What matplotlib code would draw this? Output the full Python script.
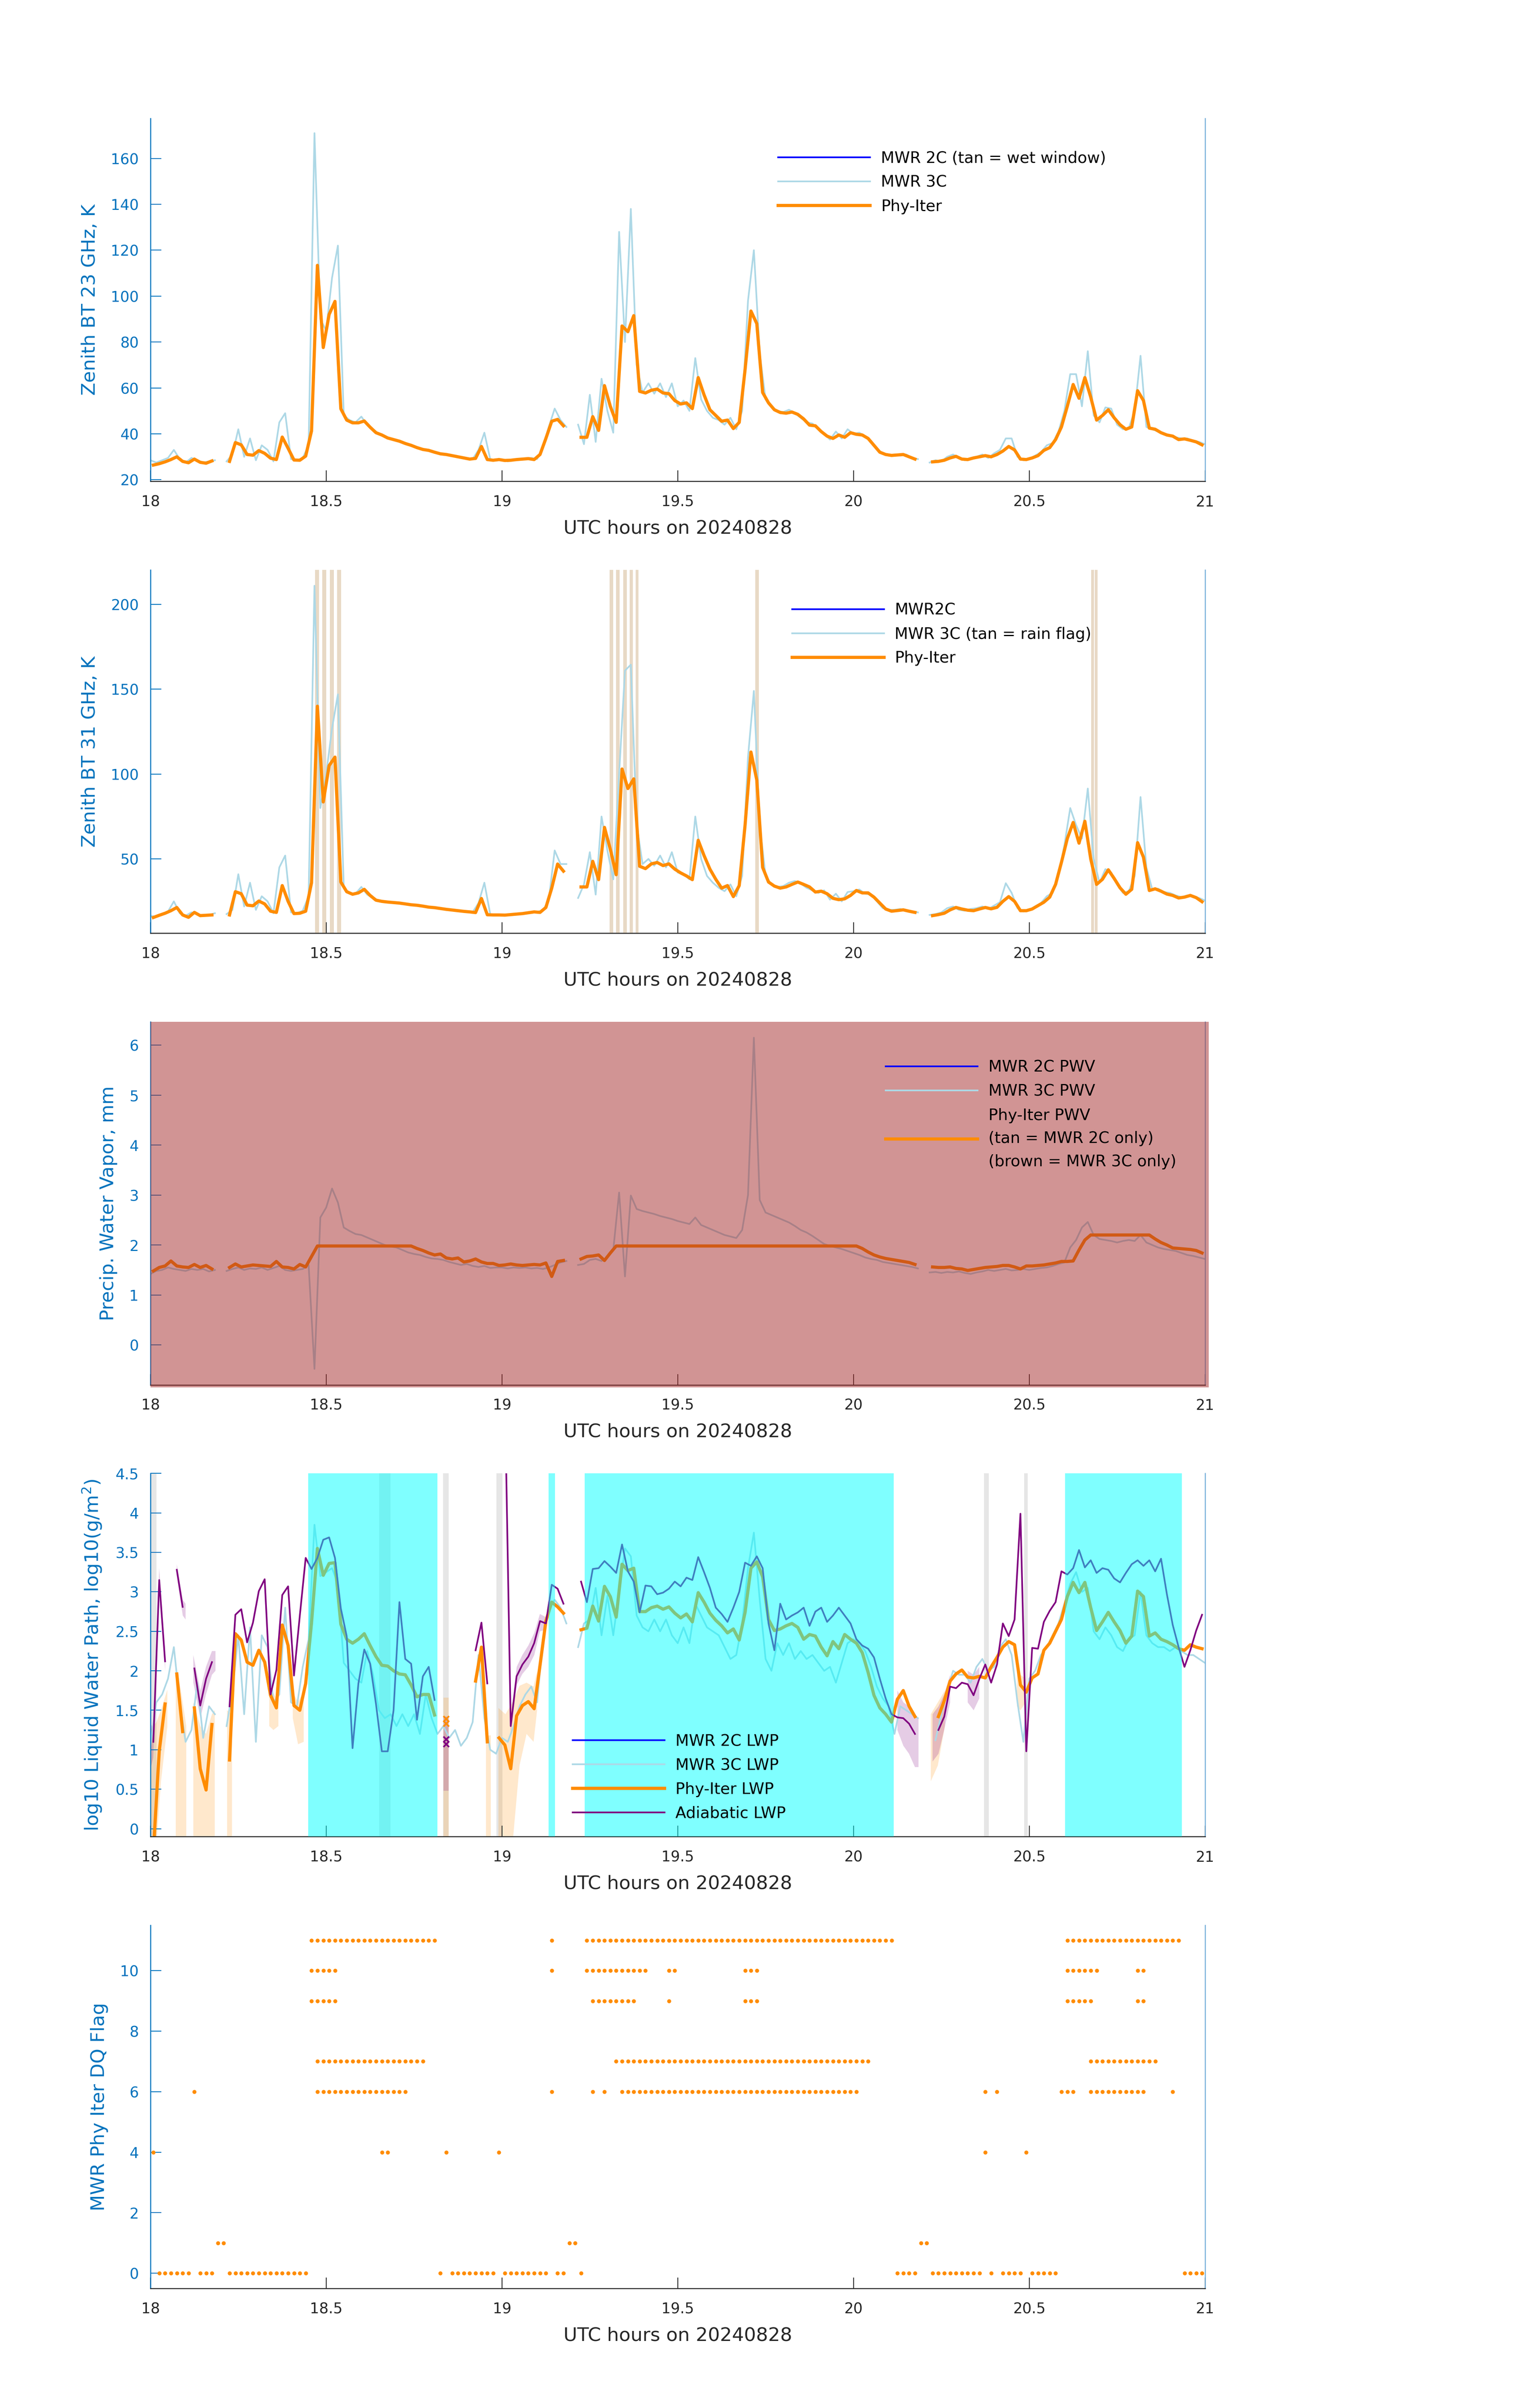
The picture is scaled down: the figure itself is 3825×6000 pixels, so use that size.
import numpy as np
import matplotlib
matplotlib.use('Agg')
import matplotlib.pyplot as plt
from matplotlib.ticker import FormatStrFormatter
from matplotlib.patches import Rectangle

nan = np.nan

# Phy-Iter retrievals are 1-minute, MWR 3C values on the minute grid
t_phy = 18 + (np.arange(180) + 0.5) / 60
t_mwr = 18 + np.arange(181) / 60

# zenith BT 23 GHz (K)
bt23_phy = [26.4, 27.0, 27.8, 28.8, 30.0, 28.0, 27.4, 29.0, 27.6, 27.2,
            28.2, nan, nan, 28.0, 36.2, 35.2, 31.0, 30.7, 32.7, 31.5,
            29.4, 28.8, 38.6, 33.7, 28.6, 28.5, 30.3, 41.3, 113.4, 77.6,
            92.0, 97.7, 50.9, 46.0, 44.8, 44.8, 45.6, 42.9, 40.5, 39.5,
            38.2, 37.5, 36.8, 35.8, 35.0, 34.0, 33.2, 32.8, 32.0, 31.3,
            31.0, 30.5, 30.0, 29.5, 29.0, 29.3, 34.5, 28.8, 28.5, 28.8,
            28.4, 28.5, 28.8, 29.0, 29.2, 28.8, 31.0, 38.0, 45.5, 46.3,
            43.5, nan, nan, 38.5, 38.5, 47.5, 41.5, 61.0, 52.0, 45.0,
            87.0, 84.5, 91.5, 58.5, 57.8, 59.0, 59.5, 57.8, 57.5, 54.5,
            53.0, 53.5, 51.0, 64.5, 57.0, 50.5, 48.0, 45.5, 46.0, 42.3,
            45.0, 68.0, 93.5, 88.0, 58.0, 53.5, 50.5, 49.3, 49.0, 49.5,
            48.5, 46.5, 43.8, 43.5, 41.0, 39.0, 38.0, 39.5, 38.5, 40.5,
            39.8, 39.5, 38.0, 35.0, 32.0, 31.0, 30.6, 30.8, 31.0, 30.0,
            29.0, nan, nan, 27.8, 28.0, 28.5, 29.5, 30.2, 29.0, 28.8,
            29.5, 30.0, 30.5, 30.0, 31.0, 32.5, 34.5, 33.0, 29.0, 28.8,
            29.5, 30.5, 32.8, 34.0, 37.5, 43.0, 52.0, 61.5, 55.5, 64.5,
            56.0, 46.0, 48.0, 50.5, 47.0, 44.0, 42.0, 43.0, 58.8, 54.5,
            42.5, 42.0, 40.5, 39.5, 39.0, 37.5, 37.8, 37.2, 36.5, 35.2]
bt23_mwr3c = [28.5, 27.5, 28.5, 29.5, 33.0, 29.0, 27.5, 29.5, 28.5, 27.5,
              28.0, 28.5, nan, 28.0, 31.0, 42.0, 30.0, 38.0, 28.5, 35.0,
              33.0, 28.0, 45.0, 49.0, 29.0, 28.5, 29.5, 35.0, 171.0, 90.0,
              85.0, 108.0, 122.0, 48.0, 46.0, 45.0, 47.5, 44.0, 42.0, 40.0,
              38.8, 37.8, 37.2, 36.3, 35.5, 34.5, 33.8, 33.0, 32.5, 31.8,
              31.3, 30.8, 30.3, 29.8, 29.3, 29.0, 33.0, 40.5, 29.0, 28.3,
              28.8, 28.0, 28.8, 29.0, 29.3, 29.5, 29.0, 34.0, 43.0, 51.0,
              46.0, 43.0, nan, 44.0, 35.5, 57.0, 36.5, 64.0, 50.0, 40.5,
              128.0, 80.0, 138.0, 70.0, 58.0, 62.0, 57.5, 62.0, 56.0, 62.0,
              52.0, 54.5, 50.0, 73.0, 55.0, 50.0, 47.0, 46.0, 44.0, 47.0,
              42.0, 50.0, 98.0, 120.0, 75.0, 55.0, 52.0, 50.0, 49.5, 50.5,
              49.0, 47.0, 45.0, 44.5, 42.0, 40.0, 37.5, 41.0, 38.0, 42.0,
              40.0, 40.5, 39.0, 37.0, 33.5, 31.5, 30.5, 31.0, 30.5, 31.0,
              29.5, 29.0, nan, 27.5, 28.5, 28.0, 30.0, 31.0, 29.5, 28.5,
              29.5, 30.0, 31.0, 29.5, 31.5, 33.0, 38.0, 38.0, 30.0, 28.5,
              29.0, 30.5, 32.0, 35.0, 36.0, 41.0, 50.0, 66.0, 66.0, 52.0,
              76.0, 48.0, 45.0, 51.5, 51.0, 44.0, 42.0, 42.5, 50.0, 74.0,
              43.0, 42.0, 41.0, 40.0, 39.0, 38.5, 38.0, 38.0, 37.0, 36.5, 35.5]

# zenith BT 31 GHz (K)
bt31_phy = [15.5, 16.8, 18.0, 19.5, 21.4, 17.0, 15.6, 18.5, 16.6, 16.8,
            17.0, nan, nan, 17.0, 30.7, 29.5, 22.8, 22.4, 25.2, 23.5,
            19.2, 18.5, 34.3, 25.0, 17.8, 18.0, 19.2, 36.0, 140.0, 83.6,
            105.0, 110.0, 36.4, 30.7, 29.2, 30.0, 32.1, 28.5, 25.7, 25.0,
            24.6, 24.3, 24.0, 23.5, 23.0, 22.7, 22.2, 21.6, 21.3, 20.8,
            20.3, 19.9, 19.5, 19.1, 18.8, 18.4, 26.7, 17.1, 17.0, 17.0,
            16.9, 17.2, 17.5, 17.8, 18.3, 18.8, 18.5, 21.4, 32.8, 47.0,
            42.8, nan, nan, 33.5, 33.5, 48.6, 37.8, 68.6, 55.7, 40.7,
            103.0, 91.5, 97.2, 45.7, 44.3, 47.1, 47.9, 46.1, 47.1, 44.0,
            41.8, 40.0, 37.8, 61.0, 52.0, 44.0, 38.0, 32.8, 34.3, 27.8,
            34.3, 70.0, 113.0, 96.5, 45.0, 36.4, 34.0, 32.8, 33.5, 35.0,
            36.4, 35.0, 33.5, 30.5, 31.0, 29.5, 26.8, 26.0, 26.5, 28.5,
            31.4, 30.0, 30.0, 27.5, 24.0, 20.5, 19.2, 19.6, 20.0, 19.2,
            18.5, nan, nan, 16.6, 17.2, 18.0, 20.0, 21.4, 20.5, 19.8,
            19.5, 20.5, 21.4, 20.6, 21.5, 25.0, 27.8, 25.0, 19.5, 19.5,
            20.5, 22.5, 24.5, 27.5, 35.0, 48.0, 62.0, 71.5, 59.3, 72.2,
            50.0, 35.0, 38.0, 43.6, 38.5, 33.0, 29.2, 32.1, 59.6, 51.0,
            31.4, 32.4, 31.0, 29.3, 28.5, 27.0, 27.5, 28.5, 27.2, 24.8]
bt31_mwr3c = [16.5, 16.0, 17.5, 19.0, 25.0, 18.0, 16.5, 18.5, 17.5, 16.5,
              17.0, 18.0, nan, 17.5, 20.0, 41.0, 22.0, 36.0, 20.0, 28.0,
              25.0, 18.0, 45.0, 52.0, 18.5, 18.0, 19.5, 28.0, 211.0, 80.0,
              100.0, 127.0, 147.0, 33.0, 30.0, 29.5, 33.5, 29.0, 27.0, 25.5,
              25.0, 24.5, 24.2, 23.8, 23.3, 22.9, 22.5, 22.0, 21.5, 21.0,
              20.6, 20.1, 19.7, 19.3, 19.0, 18.6, 24.0, 36.0, 17.5, 17.0,
              17.2, 17.0, 17.5, 17.6, 18.0, 18.6, 19.0, 19.5, 26.0, 55.0,
              47.0, 47.0, nan, 27.0, 35.0, 54.0, 29.0, 75.0, 55.0, 38.0,
              100.0, 161.0, 164.5, 70.0, 47.0, 50.0, 46.0, 52.0, 45.0, 54.0,
              42.0, 41.0, 38.0, 75.0, 50.0, 40.0, 36.0, 33.0, 31.0, 35.0,
              28.0, 40.0, 110.0, 149.0, 70.0, 40.0, 35.0, 33.5, 34.0, 36.0,
              37.0, 35.5, 33.0, 31.5, 30.0, 31.5, 26.0, 29.5, 25.0, 30.5,
              31.0, 32.0, 29.5, 29.0, 25.0, 21.0, 20.0, 20.0, 20.5, 19.5,
              19.0, 18.5, nan, 17.0, 17.5, 18.5, 21.0, 22.0, 20.0, 19.5,
              20.5, 21.0, 22.0, 20.5, 22.5, 24.5, 35.7, 30.0, 21.0, 19.0,
              20.0, 22.0, 24.0, 28.0, 30.0, 40.0, 58.0, 80.0, 70.0, 62.0,
              91.5, 50.0, 36.0, 44.0, 42.0, 35.0, 30.0, 31.0, 40.0, 86.5,
              45.0, 32.0, 32.5, 30.5, 30.0, 28.5, 27.5, 28.5, 28.0, 27.0, 25.5]
rain_spans = [(18.468, 18.480), (18.489, 18.500), (18.510, 18.522), (18.531, 18.542),
              (19.306, 19.316), (19.325, 19.335), (19.345, 19.355), (19.363, 19.373),
              (19.380, 19.388), (19.721, 19.731), (20.676, 20.684), (20.686, 20.694)]

# precipitable water vapor (mm)
pwv_phy = [1.48, 1.55, 1.58, 1.68, 1.58, 1.56, 1.55, 1.61, 1.55, 1.59,
           1.52, nan, nan, 1.55, 1.62, 1.56, 1.58, 1.60, 1.59, 1.58,
           1.57, 1.67, 1.56, 1.55, 1.52, 1.61, 1.56, 1.77, 1.98, 1.98,
           1.98, 1.98, 1.98, 1.98, 1.98, 1.98, 1.98, 1.98, 1.98, 1.98,
           1.98, 1.98, 1.98, 1.98, 1.98, 1.93, 1.89, 1.84, 1.80, 1.82,
           1.74, 1.72, 1.74, 1.66, 1.68, 1.72, 1.66, 1.63, 1.63, 1.59,
           1.60, 1.62, 1.60, 1.59, 1.60, 1.61, 1.60, 1.64, 1.37, 1.67,
           1.69, nan, nan, 1.72, 1.77, 1.78, 1.80, 1.69, 1.84, 1.98,
           1.98, 1.98, 1.98, 1.98, 1.98, 1.98, 1.98, 1.98, 1.98, 1.98,
           1.98, 1.98, 1.98, 1.98, 1.98, 1.98, 1.98, 1.98, 1.98, 1.98,
           1.98, 1.98, 1.98, 1.98, 1.98, 1.98, 1.98, 1.98, 1.98, 1.98,
           1.98, 1.98, 1.98, 1.98, 1.98, 1.98, 1.98, 1.98, 1.98, 1.98,
           1.98, 1.93, 1.86, 1.80, 1.76, 1.73, 1.71, 1.69, 1.67, 1.65,
           1.61, nan, nan, 1.56, 1.55, 1.55, 1.56, 1.53, 1.52, 1.49,
           1.51, 1.53, 1.55, 1.56, 1.57, 1.59, 1.59, 1.56, 1.52, 1.58,
           1.58, 1.59, 1.60, 1.62, 1.64, 1.67, 1.67, 1.68, 1.90, 2.10,
           2.20, 2.20, 2.20, 2.20, 2.20, 2.20, 2.20, 2.20, 2.20, 2.20,
           2.20, 2.12, 2.05, 2.00, 1.94, 1.93, 1.92, 1.91, 1.89, 1.84]
pwv_mwr3c = [1.42, 1.48, 1.50, 1.55, 1.52, 1.50, 1.48, 1.52, 1.50, 1.52,
             1.47, 1.50, nan, 1.48, 1.52, 1.55, 1.50, 1.53, 1.52, 1.55,
             1.50, 1.54, 1.58, 1.50, 1.48, 1.50, 1.52, 1.60, -0.48, 2.55,
             2.75, 3.13, 2.85, 2.35, 2.28, 2.22, 2.20, 2.15, 2.10, 2.05,
             2.00, 1.97, 1.95, 1.90, 1.85, 1.82, 1.80, 1.76, 1.73, 1.72,
             1.70, 1.66, 1.63, 1.60, 1.62, 1.58, 1.56, 1.58, 1.54, 1.55,
             1.55, 1.53, 1.55, 1.54, 1.55, 1.53, 1.54, 1.52, 1.55, 1.60,
             1.65, 1.68, nan, 1.60, 1.62, 1.70, 1.72, 1.68, 1.75, 1.90,
             3.05, 1.37, 2.99, 2.72, 2.68, 2.65, 2.62, 2.58, 2.55, 2.52,
             2.48, 2.45, 2.42, 2.55, 2.40, 2.35, 2.30, 2.25, 2.20, 2.17,
             2.14, 2.30, 3.00, 6.15, 2.90, 2.65, 2.60, 2.55, 2.50, 2.45,
             2.38, 2.30, 2.25, 2.18, 2.10, 2.02, 1.98, 1.95, 1.92, 1.88,
             1.84, 1.80, 1.75, 1.72, 1.70, 1.66, 1.64, 1.62, 1.60, 1.58,
             1.56, 1.53, nan, 1.45, 1.46, 1.44, 1.46, 1.45, 1.47, 1.44,
             1.42, 1.45, 1.47, 1.50, 1.48, 1.50, 1.52, 1.49, 1.50, 1.52,
             1.50, 1.52, 1.54, 1.55, 1.58, 1.62, 1.65, 1.95, 2.10, 2.35,
             2.46, 2.20, 2.12, 2.10, 2.08, 2.05, 2.08, 2.10, 2.08, 2.20,
             2.05, 2.00, 1.95, 1.92, 1.90, 1.88, 1.84, 1.80, 1.78, 1.75, 1.72]

# log10 liquid water path
lwp_phy = [-0.3, 0.98, 1.58, nan, 1.96, 1.23, nan, 1.53, 0.76, 0.49,
           1.32, nan, nan, 0.87, 2.47, 2.39, 2.11, 2.07, 2.26, 2.11,
           1.69, 1.53, 2.58, 2.32, 1.56, 1.50, 1.84, 2.61, 3.55, 3.21,
           3.36, 3.37, 2.59, 2.40, 2.35, 2.40, 2.47, 2.32, 2.18, 2.07,
           2.06, 2.00, 1.96, 1.95, 1.82, 1.67, 1.70, 1.70, 1.44, nan,
           nan, nan, nan, nan, nan, 1.87, 2.30, 1.10, nan, 1.15,
           1.06, 0.76, 1.43, 1.56, 1.61, 1.52, 2.07, 2.63, 2.87, 2.81,
           2.73, nan, nan, 2.52, 2.54, 2.82, 2.63, 3.07, 2.94, 2.68,
           3.35, 3.27, 3.30, 2.75, 2.75, 2.80, 2.82, 2.78, 2.81, 2.73,
           2.67, 2.72, 2.62, 2.99, 2.87, 2.73, 2.64, 2.57, 2.48, 2.53,
           2.39, 2.74, 3.30, 3.38, 3.19, 2.65, 2.51, 2.53, 2.57, 2.60,
           2.55, 2.40, 2.46, 2.44, 2.30, 2.19, 2.37, 2.28, 2.46, 2.40,
           2.35, 2.23, 1.98, 1.69, 1.53, 1.45, 1.35, 1.64, 1.75, 1.55,
           1.42, nan, nan, nan, 1.42, 1.62, 1.87, 1.96, 2.01, 1.92,
           1.91, 1.93, 1.91, 2.05, 2.17, 2.30, 2.37, 2.33, 1.82, 1.73,
           1.91, 1.96, 2.26, 2.35, 2.50, 2.65, 2.94, 3.12, 2.99, 3.12,
           2.80, 2.51, 2.62, 2.74, 2.62, 2.51, 2.35, 2.44, 3.01, 2.94,
           2.44, 2.48, 2.40, 2.37, 2.33, 2.28, 2.26, 2.33, 2.30, 2.28]
lwp_adiabatic = [1.10, 3.15, 2.12, nan, 3.28, 2.81, nan, 2.03, 1.56, 1.90,
                 2.11, nan, nan, 1.55, 2.71, 2.78, 2.36, 2.61, 3.01, 3.16,
                 1.70, 2.01, 2.96, 3.07, 1.94, 2.70, 3.43, 3.29, 3.43, 3.66,
                 3.69, 3.43, 2.79, 2.44, 1.02, 1.84, 2.27, 2.09, 1.58, 0.98,
                 0.98, 1.50, 2.87, 2.15, 2.09, 1.38, 1.93, 2.05, 1.63, nan,
                 nan, nan, nan, nan, nan, 2.26, 2.61, 1.84, nan, nan,
                 5.50, 1.30, 1.93, 2.08, 2.18, 2.35, 2.63, 2.60, 3.09, 3.04,
                 2.85, nan, nan, 3.13, 2.87, 3.29, 3.30, 3.39, 3.32, 3.24,
                 3.60, 3.26, 3.13, 2.74, 3.08, 3.07, 2.97, 2.99, 3.04, 3.13,
                 3.07, 3.18, 3.15, 3.44, 3.25, 3.05, 2.80, 2.72, 2.62, 2.80,
                 3.00, 3.37, 3.33, 3.45, 3.30, 2.60, 2.26, 2.85, 2.65, 2.70,
                 2.74, 2.80, 2.57, 2.75, 2.80, 2.62, 2.70, 2.80, 2.70, 2.60,
                 2.40, 2.32, 2.28, 2.17, 1.90, 1.65, 1.45, 1.41, 1.40, 1.33,
                 1.20, nan, nan, nan, 1.25, 1.42, 1.80, 1.78, 1.85, 1.83,
                 1.69, 1.90, 2.08, 1.85, 2.08, 2.60, 2.44, 2.65, 3.99, 0.98,
                 2.29, 2.28, 2.62, 2.76, 2.87, 3.26, 3.22, 3.30, 3.53, 3.31,
                 3.40, 3.24, 3.30, 3.28, 3.17, 3.12, 3.24, 3.35, 3.40, 3.33,
                 3.40, 3.26, 3.42, 2.97, 2.58, 2.30, 2.05, 2.26, 2.51, 2.71]
lwp_mwr3c = [1.05, 1.60, 1.70, 1.90, 2.30, 1.60, 1.10, 1.25, 1.85, 1.15,
             1.55, 1.45, nan, 1.30, 1.75, 2.45, 1.45, 2.55, 1.10, 2.45,
             2.30, 1.60, 1.70, 2.80, 1.60, 1.55, 2.05, 2.40, 3.85, 3.20,
             3.25, 3.30, 3.10, 2.10, 2.00, 1.90, 1.85, 2.25, 1.95, 1.50,
             1.40, 1.45, 1.30, 1.45, 1.30, 1.45, 1.20, 1.70, 1.40, 1.20,
             1.30, 1.15, 1.25, 1.05, 1.15, 1.35, 2.20, 1.40, 1.00, 0.95,
             1.15, 1.10, 1.30, 1.55, 1.70, 1.80, 1.60, 2.40, 2.80, 2.90,
             2.80, 2.60, nan, 2.30, 2.60, 2.65, 3.05, 2.45, 2.95, 2.45,
             3.00, 3.55, 3.45, 2.70, 2.55, 2.50, 2.65, 2.50, 2.65, 2.45,
             2.35, 2.55, 2.35, 2.85, 2.70, 2.55, 2.50, 2.45, 2.30, 2.15,
             2.20, 2.60, 3.30, 3.75, 2.90, 2.15, 2.00, 2.35, 2.20, 2.35,
             2.15, 2.25, 2.15, 2.20, 2.10, 2.00, 2.05, 1.85, 2.10, 2.35,
             2.40, 2.35, 2.25, 2.05, 1.80, 1.65, 1.55, 1.20, 1.55, 1.50,
             1.45, 1.40, nan, nan, 1.12, 1.45, 1.75, 2.00, 1.95, 1.95,
             1.85, 2.05, 2.15, 2.00, 2.05, 2.30, 2.40, 2.20, 1.60, 1.10,
             1.90, 2.00, 2.20, 2.30, 2.45, 2.60, 2.85, 3.10, 3.25, 3.00,
             3.05, 2.50, 2.40, 2.55, 2.45, 2.30, 2.25, 2.40, 2.45, 3.00,
             2.45, 2.35, 2.30, 2.30, 2.25, 2.30, 2.25, 2.20, 2.20, 2.15, 2.10]
# uncertainty envelopes (only where they are wider than the line)
phy_unc_t = [18.0, 18.017, 18.03, 18.048, nan, 18.072, 18.085, 18.102, nan,
             18.122, 18.142, 18.158, 18.175, 18.183, nan, 18.218, 18.232, nan,
             18.338, 18.35, 18.364, nan, 18.405, 18.42, 18.436, nan,
             18.834, 18.848, nan, 18.955, 18.968, nan,
             18.99, 19.01, 19.03, 19.05, 19.07, 19.09, 19.10, nan,
             20.22, 20.24, 20.26, nan, 20.465, 20.475, 20.49]
phy_unc_lo = [-0.2, -0.2, 0.6, 1.29, nan, -0.2, -0.2, -0.2, nan,
              -0.2, -0.2, -0.2, -0.2, -0.2, nan, -0.2, -0.2, nan,
              1.30, 1.25, 1.30, nan, 1.40, 1.07, 1.10, nan,
              -0.2, -0.2, nan, -0.2, -0.2, nan,
              -0.2, -0.2, -0.2, 0.80, 1.20, 1.10, 1.50, nan,
              0.60, 0.80, 1.30, nan, 1.55, 1.50, 1.60]
phy_unc_hi = [1.25, 1.35, 1.50, 1.76, nan, 2.04, 1.80, 1.30, nan,
              1.60, 1.30, 1.20, 1.45, 1.50, nan, 1.50, 1.45, nan,
              1.75, 1.72, 1.60, nan, 1.73, 1.60, 1.75, nan,
              1.66, 1.66, nan, 1.18, 1.18, nan,
              1.53, 1.45, 1.60, 1.81, 1.85, 1.80, 2.00, nan,
              1.45, 1.60, 1.75, nan, 2.00, 1.95, 1.90]
adi_unc_t = [18.0, 18.008, 18.025, 18.042, nan, 18.075, 18.092, 18.10, nan,
             18.122, 18.142, 18.158, 18.175, 18.185, nan, 18.834, 18.848, nan,
             19.025, 19.042, 19.058, 19.075, 19.092, 19.108, 19.125, nan,
             20.125, 20.142, 20.158, 20.175, 20.185, nan,
             20.225, 20.242, 20.258, 20.275, nan, 20.325, 20.342, 20.358]
adi_unc_lo = [0.75, 0.90, 3.00, 2.00, nan, 3.20, 2.70, 2.65, nan,
              1.85, 1.40, 1.70, 1.95, 2.00, nan, 0.48, 0.48, nan,
              1.20, 1.82, 1.96, 2.05, 2.20, 2.50, 2.52, nan,
              1.25, 1.05, 0.95, 0.78, 0.78, nan,
              0.85, 0.95, 1.25, 1.60, nan, 1.60, 1.50, 1.65]
adi_unc_hi = [1.35, 1.25, 3.30, 2.20, nan, 3.35, 2.90, 2.85, nan,
              2.20, 1.75, 2.05, 2.25, 2.25, nan, 1.42, 1.42, nan,
              1.40, 2.05, 2.20, 2.32, 2.48, 2.72, 2.68, nan,
              1.75, 1.60, 1.55, 1.45, 1.40, nan,
              1.45, 1.55, 1.70, 1.95, nan, 2.00, 1.95, 2.05]
# lone retrievals at 18.84 h
iso_t = [18.841, 18.841]
phy_iso = [1.39, 1.33]
adi_iso = [1.13, 1.07]
cyan_spans = [(18.449, 18.817), (19.133, 19.151), (19.235, 20.115), (20.602, 20.934)]
grey_spans = [(18.0, 18.017), (18.651, 18.683), (18.833, 18.848),
              (18.984, 19.001), (20.371, 20.385), (20.485, 20.496)]

# DQ flags: runs of Phy-Iter minute indices (inclusive) that carry each flag
dq11 = [(27, 48), (68, 68), (74, 126), (156, 175)]
dq10 = [(27, 31), (68, 68), (74, 84), (88, 89), (101, 103), (156, 161), (168, 169)]
dq9 = [(27, 31), (75, 82), (88, 88), (101, 103), (156, 160), (168, 169)]
dq7 = [(28, 46), (79, 122), (160, 171)]
dq6 = [(7, 7), (28, 43), (68, 68), (75, 75), (77, 77), (80, 120), (142, 142),
       (144, 144), (155, 157), (160, 169), (174, 174)]
dq4 = [(0, 0), (39, 40), (50, 50), (59, 59), (142, 142), (149, 149)]
dq1 = [(11, 12), (71, 72), (131, 132)]
dq0 = [(1, 6), (8, 10), (13, 26), (49, 49), (51, 58), (60, 67), (69, 70), (73, 73),
       (127, 130), (133, 141), (143, 143), (145, 148), (150, 154), (176, 179)]

BLUE = (0, 0.447, 0.741)
DARK = (0.15, 0.15, 0.15)
ORANGE = 'darkorange'
LBLUE = 'lightblue'

plt.rcParams['font.family'] = ['DejaVu Sans']

fig = plt.figure(figsize=(12.75, 20), dpi=300)
axes = [fig.add_axes([0.098, 0.0497 + i * 0.1876, 0.687, 0.1508]) for i in range(4, -1, -1)]


def style(ax, ylim, yticks, ylabel):
    ax.set_xlim(18, 21)
    ax.set_ylim(*ylim)
    ax.set_yticks(yticks)
    ax.set_xticks([18, 18.5, 19, 19.5, 20, 20.5, 21])
    ax.xaxis.set_major_formatter(FormatStrFormatter('%g'))
    ax.yaxis.set_major_formatter(FormatStrFormatter('%g'))
    ax.spines['top'].set_visible(False)
    ax.spines['left'].set_color(BLUE)
    ax.spines['right'].set_color((0.45, 0.68, 0.85))
    ax.spines['bottom'].set_color(DARK)
    for s in ax.spines.values():
        s.set_linewidth(0.6)
    ax.tick_params(axis='x', direction='in', length=6.5, width=0.5, colors=DARK,
                   labelsize=8.8, pad=8)
    ax.tick_params(axis='y', direction='in', length=6.5, width=0.5, colors=BLUE,
                   labelsize=8.8, pad=7, right=False)
    ax.set_xlabel('UTC hours on 20240828', fontsize=11.3, color=DARK, labelpad=6)
    ax.set_ylabel(ylabel, fontsize=11.3, color=BLUE, labelpad=7)


def legend(ax, x, y):
    return ax.legend(loc='upper left', bbox_to_anchor=(x, y), frameon=False, fontsize=9.4,
                     handlelength=5.85, handletextpad=0.68, labelspacing=0.56,
                     borderpad=0, borderaxespad=0)


# 1) BT 23 GHz
ax = axes[0]
ax.plot([], [], color='blue', lw=1.0, label='MWR 2C (tan = wet window)')
ax.plot(t_mwr, bt23_mwr3c, color=LBLUE, lw=1.0, label='MWR 3C')
ax.plot(t_phy, bt23_phy, color=ORANGE, lw=1.9, label='Phy-Iter')
style(ax, (19.3, 177.5), range(20, 161, 20), 'Zenith BT 23 GHz, K')
legend(ax, 0.5953, 0.910)

# 2) BT 31 GHz
ax = axes[1]
for a, b in rain_spans:
    ax.axvspan(a, b, color='tan', alpha=0.5, lw=0, zorder=1)
ax.plot([], [], color='blue', lw=1.0, label='MWR2C')
ax.plot(t_mwr, bt31_mwr3c, color=LBLUE, lw=1.0, label='MWR 3C (tan = rain flag)')
ax.plot(t_phy, bt31_phy, color=ORANGE, lw=1.9, label='Phy-Iter')
style(ax, (6.3, 220.3), [50, 100, 150, 200], 'Zenith BT 31 GHz, K')
legend(ax, 0.6084, 0.910)

# 3) PWV
ax = axes[2]
ax.plot([], [], color='blue', lw=1.0, label='MWR 2C PWV')
ax.plot(t_mwr, pwv_mwr3c, color=LBLUE, lw=1.0, label='MWR 3C PWV')
ax.plot(t_phy, pwv_phy, color=ORANGE, lw=1.9,
        label='Phy-Iter PWV\n(tan = MWR 2C only)\n(brown = MWR 3C only)')
ax.add_patch(Rectangle((18, -0.85), 3.011, 7.32, color='brown', alpha=0.5, lw=0,
                       zorder=3, clip_on=False))
style(ax, (-0.8, 6.47), range(0, 7), 'Precip. Water Vapor, mm')
leg = legend(ax, 0.6972, 0.895)
for txt in leg.get_texts():
    txt.set_linespacing(1.65)

# 4) LWP
ax = axes[3]
for a, b in grey_spans:
    ax.axvspan(a, b, color='0.9', lw=0, zorder=0.5)
ax.fill_between(phy_unc_t, phy_unc_lo, phy_unc_hi, color=ORANGE, alpha=0.2, lw=0, zorder=1)
ax.fill_between(adi_unc_t, adi_unc_lo, adi_unc_hi, color='purple', alpha=0.2, lw=0, zorder=1)
ax.plot([], [], color='blue', lw=1.0, label='MWR 2C LWP')
ax.plot(t_mwr, lwp_mwr3c, color=LBLUE, lw=1.0, label='MWR 3C LWP')
ax.plot(t_phy, lwp_phy, color=ORANGE, lw=1.9, label='Phy-Iter LWP')
ax.plot(t_phy, lwp_adiabatic, color='purple', lw=1.0, label='Adiabatic LWP')
ax.plot(iso_t, phy_iso, 'x', color=ORANGE, ms=3.5, mew=1.0)
ax.plot(iso_t, adi_iso, 'x', color='purple', ms=3.5, mew=1.0)
for a, b in cyan_spans:
    ax.axvspan(a, b, color='cyan', alpha=0.5, lw=0, zorder=3)
style(ax, (-0.1, 4.5), np.arange(0, 4.6, 0.5), 'log10 Liquid Water Path, log10(g/m$^2$)')
legend(ax, 0.4003, 0.283)

# 5) DQ flags
ax = axes[4]
for flag, runs in [(0, dq0), (1, dq1), (4, dq4), (6, dq6), (7, dq7), (9, dq9),
                   (10, dq10), (11, dq11)]:
    idx = np.concatenate([np.arange(a, b + 1) for a, b in runs])
    ax.plot(t_phy[idx], np.full(idx.size, flag), 'o', color=ORANGE, ms=2.4, mew=0)
style(ax, (-0.5, 11.5), range(0, 11, 2), 'MWR Phy Iter DQ Flag')

fig.savefig('out.png', dpi=300)
